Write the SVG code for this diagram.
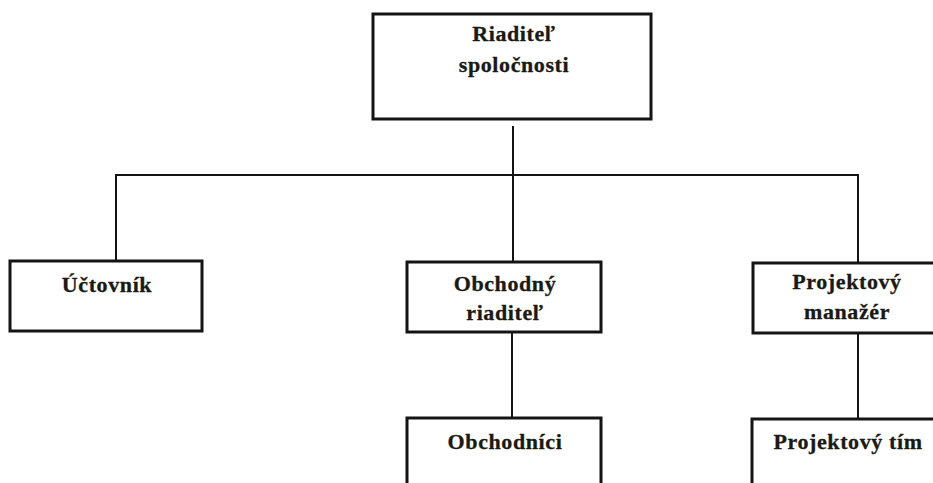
<svg xmlns="http://www.w3.org/2000/svg" width="933" height="483" viewBox="0 0 933 483">
<style>
.box{fill:#fff;stroke:#141414;stroke-width:3}
.lbl{font-family:"Liberation Serif","Times New Roman",serif;font-weight:bold;font-size:22px;letter-spacing:0.6px;fill:#1a1a14;stroke:#1a1a14;stroke-width:0.3;text-anchor:middle}
.con{fill:none;stroke:#141414;stroke-width:2}
</style>
<rect width="933" height="483" fill="#fff"/>
<g id="connectors">
<line class="con" x1="513" y1="126" x2="513" y2="262"/>
<polyline class="con" points="116,261 116,175 858,175 858,263"/>
<line class="con" x1="512" y1="332" x2="512" y2="418"/>
<line class="con" x1="858" y1="333" x2="858" y2="419"/>
</g>
<g id="n-riaditel">
<rect class="box" x="373" y="14" width="278" height="105"/>
<text class="lbl" x="514" y="41">Riaditeľ</text>
<text class="lbl" x="514" y="72">spoločnosti</text>
</g>
<g id="n-uctovnik">
<rect class="box" x="10" y="261" width="192" height="70"/>
<text class="lbl" x="107" y="292">Účtovník</text>
</g>
<g id="n-obchodny">
<rect class="box" x="407" y="262" width="194" height="70"/>
<text class="lbl" x="505" y="291">Obchodný</text>
<text class="lbl" x="505" y="320">riaditeľ</text>
</g>
<g id="n-projektovy">
<rect class="box" x="753" y="263" width="184" height="70"/>
<text class="lbl" x="847" y="289">Projektový</text>
<text class="lbl" x="847" y="319">manažér</text>
</g>
<g id="n-obchodnici">
<rect class="box" x="407" y="418" width="194" height="80"/>
<text class="lbl" x="505" y="449">Obchodníci</text>
</g>
<g id="n-tim">
<rect class="box" x="752" y="419" width="185" height="80"/>
<text class="lbl" x="848" y="449">Projektový tím</text>
</g>
</svg>
